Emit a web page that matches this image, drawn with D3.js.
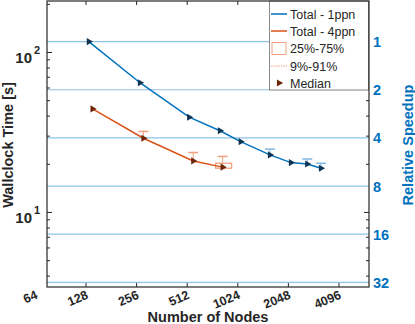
<!DOCTYPE html>
<html>
<head>
<meta charset="utf-8">
<script src="https://cdn.jsdelivr.net/npm/d3@7"></script>
<style>
  body { margin: 0; background: #fff; }
  svg { font-family: "Liberation Sans", Arial, sans-serif; }
</style>
</head>
<body>
<script>
/* ---------------------------- */
/* DATA                         */
/* ---------------------------- */

// Total - 1ppn (median wallclock time per node count)
const nodes1 = [133, 268, 526, 802, 1065, 1591, 2120, 2652, 3200];
const time1  = [117, 64.7, 39.4, 32.4, 27.7, 22.9, 20.5, 20.1, 18.9];
// 91% whiskers where visible
const errNodes1 = [1591, 2652, 3200];
const errHi1    = [24.9, 21.6, 20.3];

// Total - 4ppn
const nodes4 = [140, 281, 556, 832];
const time4  = [44.4, 29.1, 21.0, 19.2];
const errNodes4 = [281, 556, 832];
const errHi4    = [32.1, 23.7, 22.4];
// 25%-75% box
const boxNodes4 = [832];
const boxLo4    = [18.9];
const boxHi4    = [20.3];

const xTicks = [64, 128, 256, 512, 1024, 2048, 4096];
const speedupTicks = [1, 2, 4, 8, 16, 32];
const legendLabels = ["Total - 1ppn", "Total - 4ppn", "25%-75%", "9%-91%", "Median"];

/* ---------------------------- */
/* CANVAS                       */
/* ---------------------------- */

const W = 415, H = 324;
const plot = {left: 47, right: 369, top: 1, bottom: 287};

const blue = "#0072BD", orange = "#D95319";
const blueLight = "#7fb8e3", orangeLight = "#f0a07c";
const blueDark = "#0e3553", orangeDark = "#6e2608";
const gridColor = "#8ec3e8";

let svg = d3.select("body").append("svg")
    .attr("width", W)
    .attr("height", H);

let x = d3.scaleLog().base(2)
    .domain([75, 6180])
    .range([plot.left, plot.right]);

let y = d3.scaleLog()
    .domain([3.42, 209.8])
    .range([plot.bottom, plot.top]);

const T0 = time1[0]; // reference time for speedup
const ySpeed = s => y(T0 / s);

// Speedup grid lines
svg.append("g").selectAll("line")
    .data(speedupTicks)
    .join("line")
        .attr("x1", plot.left).attr("x2", plot.right)
        .attr("y1", d => ySpeed(d)).attr("y2", d => ySpeed(d))
        .attr("stroke", gridColor)
        .attr("stroke-width", 1.2);

/* ---------------------------- */
/* AXES                         */
/* ---------------------------- */

// Log ticks on the left axis (major + minor)
let yTickVals = [];
for (let v = 4; v <= 10; v++) yTickVals.push(v);
for (let v = 20; v <= 100; v += 10) yTickVals.push(v);
yTickVals.push(200);
const isMajor = v => v === 10 || v === 100;

function tickLines(g, side) {
    // side: "left" or "right"
    const x0 = side === "left" ? plot.left : plot.right;
    const dir = side === "left" ? 1 : -1;
    g.selectAll("line")
        .data(yTickVals)
        .join("line")
            .attr("x1", x0)
            .attr("x2", d => x0 + dir * (isMajor(d) ? 5 : 3))
            .attr("y1", d => y(d)).attr("y2", d => y(d))
            .attr("stroke", "#262626")
            .attr("stroke-width", 1);
}
svg.append("g").call(tickLines, "left");
svg.append("g").call(tickLines, "right");

// x ticks bottom and top (inward)
const xIn = xTicks.filter(d => x(d) > plot.left);
svg.append("g").selectAll("line")
    .data(xIn)
    .join("line")
        .attr("x1", d => x(d)).attr("x2", d => x(d))
        .attr("y1", plot.bottom).attr("y2", plot.bottom - 4)
        .attr("stroke", "#262626");
svg.append("g").selectAll("line")
    .data(xIn)
    .join("line")
        .attr("x1", d => x(d)).attr("x2", d => x(d))
        .attr("y1", plot.top).attr("y2", plot.top + 4)
        .attr("stroke", "#262626");

// x tick labels (rotated)
svg.append("g").selectAll("text")
    .data(xTicks)
    .join("text")
        .attr("transform", d => "translate(" + (x(d) + 3) + "," + 298 + ") rotate(-23)")
        .attr("text-anchor", "end")
        .attr("font-size", "12.5px")
        .attr("font-weight", "bold")
        .attr("fill", "#262626")
        .text(d => d);

// y tick labels 10^1 and 10^2
[10, 100].forEach((v, i) => {
    svg.append("text")
        .attr("x", 32)
        .attr("y", y(v) + 10.5)
        .attr("text-anchor", "end")
        .attr("font-size", "15px")
        .attr("font-weight", "bold")
        .attr("fill", "#262626")
        .text("10");
    svg.append("text")
        .attr("x", 34)
        .attr("y", y(v) + 2)
        .attr("font-size", "11px")
        .attr("font-weight", "bold")
        .attr("fill", "#262626")
        .text(i + 1);
});

// Right axis labels (speedup)
svg.append("g").selectAll("text")
    .data(speedupTicks)
    .join("text")
        .attr("x", 373)
        .attr("y", d => ySpeed(d) + 5.5)
        .attr("font-size", "14.5px")
        .attr("font-weight", "bold")
        .attr("fill", blue)
        .text(d => d);

// Axis titles
svg.append("text")
    .attr("transform", "translate(13," + 145 + ") rotate(-90)")
    .attr("text-anchor", "middle")
    .attr("font-size", "14.5px")
    .attr("font-weight", "bold")
    .attr("fill", "#262626")
    .text("Wallclock Time [s]");

svg.append("text")
    .attr("transform", "translate(413," + 145 + ") rotate(-90)")
    .attr("text-anchor", "middle")
    .attr("font-size", "14.5px")
    .attr("font-weight", "bold")
    .attr("fill", blue)
    .text("Relative Speedup");

svg.append("text")
    .attr("x", 208)
    .attr("y", 322)
    .attr("text-anchor", "middle")
    .attr("font-size", "14.5px")
    .attr("font-weight", "bold")
    .attr("fill", "#262626")
    .text("Number of Nodes");

/* ---------------------------- */
/* SERIES                       */
/* ---------------------------- */

const tri = d3.symbol().type(d3.symbolTriangle).size(22);

function drawSeries(nodes, times, color, markColor) {
    let pts = nodes.map((n, i) => [n, times[i]]);
    svg.append("path")
        .datum(pts)
        .attr("fill", "none")
        .attr("stroke", color)
        .attr("stroke-width", 1.5)
        .attr("d", d3.line().x(d => x(d[0])).y(d => y(d[1])));
    svg.append("g").selectAll("path")
        .data(pts)
        .join("path")
            .attr("d", tri)
            .attr("transform", d => "translate(" + x(d[0]) + "," + y(d[1]) + ") rotate(90)")
            .attr("fill", markColor);
}

function drawWhiskers(nodes, times, errNodes, hi, color) {
    let g = svg.append("g");
    errNodes.forEach((n, i) => {
        const med = times[nodes.indexOf(n)];
        g.append("line")
            .attr("x1", x(n)).attr("x2", x(n))
            .attr("y1", y(med)).attr("y2", y(hi[i]))
            .attr("stroke", color).attr("stroke-width", 1);
        g.append("line")
            .attr("x1", x(n) - 5).attr("x2", x(n) + 5)
            .attr("y1", y(hi[i])).attr("y2", y(hi[i]))
            .attr("stroke", color).attr("stroke-width", 1.5);
    });
}

drawWhiskers(nodes1, time1, errNodes1, errHi1, blueLight);
drawWhiskers(nodes4, time4, errNodes4, errHi4, orangeLight);

// 25%-75% box
svg.append("g").selectAll("rect")
    .data(boxNodes4)
    .join("rect")
        .attr("x", d => x(d) - 7)
        .attr("width", 16)
        .attr("y", (d, i) => y(boxHi4[i]))
        .attr("height", (d, i) => y(boxLo4[i]) - y(boxHi4[i]))
        .attr("fill", "none")
        .attr("stroke", orangeLight)
        .attr("stroke-width", 1.3);

drawSeries(nodes1, time1, blue, blueDark);
drawSeries(nodes4, time4, orange, orangeDark);

/* ---------------------------- */
/* LEGEND                       */
/* ---------------------------- */

const lg = svg.append("g");
lg.append("rect")
    .attr("x", 269.5).attr("y", 1)
    .attr("width", 99).attr("height", 89)
    .attr("fill", "#fff")
    .attr("stroke", "#8a8a8a")
    .attr("stroke-width", 1);

const rowY = [14, 31, 48.5, 66, 83];
legendLabels.forEach((lab, i) => {
    lg.append("text")
        .attr("x", 290)
        .attr("y", rowY[i] + 4.5)
        .attr("font-size", "12.5px")
        .attr("fill", "#262626")
        .text(lab);
});
lg.append("line").attr("x1", 271).attr("x2", 287).attr("y1", rowY[0]).attr("y2", rowY[0])
    .attr("stroke", blue).attr("stroke-width", 1.5);
lg.append("line").attr("x1", 271).attr("x2", 287).attr("y1", rowY[1]).attr("y2", rowY[1])
    .attr("stroke", orange).attr("stroke-width", 1.5);
lg.append("rect").attr("x", 272).attr("y", rowY[2] - 6).attr("width", 14).attr("height", 12)
    .attr("fill", "none").attr("stroke", orangeLight).attr("stroke-width", 1);
lg.append("line").attr("x1", 271).attr("x2", 287).attr("y1", rowY[3]).attr("y2", rowY[3])
    .attr("stroke", orangeLight).attr("stroke-width", 1).attr("stroke-dasharray", "1.5,1");
lg.append("path").attr("d", tri)
    .attr("transform", "translate(279," + rowY[4] + ") rotate(90)")
    .attr("fill", orangeDark);

// Plot box
svg.append("rect")
    .attr("x", plot.left).attr("y", plot.top)
    .attr("width", plot.right - plot.left)
    .attr("height", plot.bottom - plot.top)
    .attr("fill", "none")
    .attr("stroke", "#262626")
    .attr("stroke-width", 1.2);
</script>
</body>
</html>
